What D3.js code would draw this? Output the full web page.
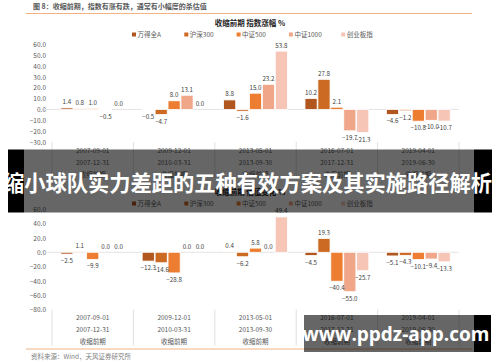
<!DOCTYPE html>
<html>
<head>
<meta charset="utf-8">
<script src="https://cdn.jsdelivr.net/npm/d3@7/dist/d3.min.js"></script>
<style>
  body { margin: 0; background: #fff; }
  svg { display: block; font-family: "Noto Sans CJK SC", "Noto Sans", sans-serif; }
</style>
</head>
<body>
<div id="chart"></div>
<script>
var categories = ['2007', '2009', '2013', '2016', '2019'];
var startDates = ['2007-09-01', '2009-12-01', '2013-05-01', '2016-07-01', '2019-04-01'];
var endDates = ['2007-12-31', '2010-03-31', '2013-09-30', '2017-12-31', '2019-06-30'];
var phaseLabel = '收缩前期';
var seriesNames = ['万得全A', '沪深300', '中证500', '中证1000', '创业板指'];
var col_series = ['#B0561E', '#CC6A24', '#ED7D31', '#F0A688', '#F6C5B6'];

// top: index change %
var topValues = [
    [1.4, 0.8, 1.0, -0.5, 0.0],
    [-0.5, -4.7, 8.0, 13.1, 0.0],
    [8.8, -1.6, 15.0, 23.2, 53.8],
    [10.2, 27.8, 2.1, -19.7, -21.3],
    [-4.6, -1.2, -10.8, -10.0, -10.7]
];
var topTicks = [60, 50, 40, 30, 20, 10, 0, -10, -20, -30];

// bottom: valuation change %
var bottomValues = [
    [-2.5, 1.1, -9.9, 0.0, 0.0],
    [-12.3, -14.6, -28.8, 0.0, 0.0],
    [0.4, -6.2, 5.8, 0.0, 49.4],
    [-4.5, 19.3, -40.4, -55.0, -25.7],
    [-5.1, -4.3, -10.1, -9.4, -13.3]
];
var bottomTicks = [60, 40, 20, 0, -20, -40, -60, -80];

var width = 500, height = 362;
var plotLeft = 52, plotRight = 459;

var svg = d3.select('#chart').append('svg')
    .attr('width', width)
    .attr('height', height);

// heading
svg.append('text')
    .attr('x', 33).attr('y', 9)
    .style('font-size', '7px')
    .style('font-weight', 'bold')
    .style('fill', '#595959')
    .text('图 8：收缩前期，指数有涨有跌，通常有小幅度的杀估值');

svg.append('line')
    .attr('x1', 26).attr('x2', 472)
    .attr('y1', 13.5).attr('y2', 13.5)
    .attr('stroke', '#F4B183').attr('stroke-width', 1);

var xGroup = d3.scaleBand()
    .domain(categories)
    .range([plotLeft, plotRight]);

var xBar = d3.scaleBand()
    .domain(seriesNames)
    .range([8, xGroup.bandwidth() - 8])
    .padding(0.06);

function drawPanel(opts) {
    var g = svg.append('g');
    var y = d3.scaleLinear().domain(opts.domain).range(opts.range);

    g.append('text')
        .attr('x', 250).attr('y', opts.titleY)
        .attr('text-anchor', 'middle')
        .style('font-size', '7.5px')
        .style('font-weight', 'bold')
        .style('fill', '#222')
        .text(opts.title);

    // legend
    var leg = g.selectAll('.leg').data(seriesNames).enter().append('g')
        .attr('transform', function(d, i) { return 'translate(' + (132 + i * 52.3) + ',' + opts.legendY + ')'; });
    leg.append('rect')
        .attr('x', 0).attr('y', -4.5)
        .attr('width', 4).attr('height', 4)
        .attr('fill', function(d, i) { return col_series[i]; });
    leg.append('text')
        .attr('x', 5.5).attr('y', 0)
        .style('font-size', '6.5px')
        .style('fill', '#595959')
        .text(function(d) { return d; });

    // y axis labels
    var yAxis = d3.axisLeft(y)
        .tickValues(opts.ticks)
        .tickSize(0)
        .tickPadding(0)
        .tickFormat(d3.format('.1f'));
    var ya = g.append('g')
        .attr('transform', 'translate(46,0)')
        .call(yAxis);
    ya.select('.domain').remove();
    ya.selectAll('text')
        .style('font-size', '6.5px')
        .style('fill', '#595959')
        .style('font-family', '"Noto Sans CJK SC", sans-serif');

    // zero line
    g.append('line')
        .attr('x1', 44).attr('x2', plotRight)
        .attr('y1', y(0)).attr('y2', y(0))
        .attr('stroke', '#E4E4E4').attr('stroke-width', 1);

    // category separators
    var seps = categories.map(function(c) { return xGroup(c); }).concat([plotRight]);
    g.selectAll('.sep').data(seps).enter().append('line')
        .attr('x1', function(d) { return d; })
        .attr('x2', function(d) { return d; })
        .attr('y1', y(opts.domain[0]))
        .attr('y2', y(opts.domain[0]) + 36)
        .attr('stroke', '#E0E0E0').attr('stroke-width', 1);

    // bars
    var groups = g.selectAll('.grp').data(opts.values).enter().append('g')
        .attr('transform', function(d, i) { return 'translate(' + xGroup(categories[i]) + ',0)'; });

    groups.selectAll('rect').data(function(d) { return d; }).enter().append('rect')
        .attr('x', function(d, i) { return xBar(seriesNames[i]); })
        .attr('y', function(d) { return y(Math.max(0, d)); })
        .attr('width', xBar.bandwidth())
        .attr('height', function(d) { return Math.abs(y(d) - y(0)); })
        .attr('fill', function(d, i) { return col_series[i]; })
        .attr('stroke', '#fff').attr('stroke-width', 0.8);

    groups.selectAll('text').data(function(d) { return d; }).enter().append('text')
        .attr('x', function(d, i) { return xBar(seriesNames[i]) + xBar.bandwidth() / 2; })
        .attr('y', function(d) { return d >= 0 ? y(d) - 3.5 : y(d) + 9; })
        .attr('text-anchor', 'middle')
        .style('font-size', '6.2px')
        .style('fill', '#404040')
        .text(function(d) { return d3.format('.1f')(d); });

    // x labels
    var rows = [startDates, endDates, categories.map(function() { return phaseLabel; })];
    rows.forEach(function(row, r) {
        g.selectAll('.xl' + r).data(row).enter().append('text')
            .attr('x', function(d, i) { return xGroup(categories[i]) + xGroup.bandwidth() / 2; })
            .attr('y', opts.labelY + r * 12)
            .attr('text-anchor', 'middle')
            .style('font-size', '6.5px')
            .style('fill', '#595959')
            .text(function(d) { return d; });
    });
}

drawPanel({
    title: '收缩前期 指数涨幅 %',
    titleY: 26, legendY: 37,
    domain: [-30, 60], range: [142, 44.4],
    ticks: topTicks, values: topValues, labelY: 152.5
});

drawPanel({
    title: '收缩前期 估值变化 %',
    titleY: 195, legendY: 206,
    domain: [-80, 60], range: [309.6, 209.3],
    ticks: bottomTicks, values: bottomValues, labelY: 319.5
});

svg.append('line')
    .attr('x1', 26).attr('x2', 472)
    .attr('y1', 349).attr('y2', 349)
    .attr('stroke', '#F4B183').attr('stroke-width', 1);

svg.append('text')
    .attr('x', 31).attr('y', 359)
    .style('font-size', '6.5px')
    .style('fill', '#7F7F7F')
    .text('资料来源：Wind，天风证券研究所');

// banner
svg.append('rect').attr('x', 8).attr('y', 149.5).attr('width', 16).attr('height', 63).attr('fill', '#000');
svg.append('rect').attr('x', 474).attr('y', 149.5).attr('width', 18).attr('height', 63).attr('fill', '#000');
svg.append('rect').attr('x', 24).attr('y', 149.5).attr('width', 450).attr('height', 63).attr('fill', 'rgba(0,0,0,0.6)');
svg.append('text')
    .attr('x', 3).attr('y', 191)
    .attr('textLength', 489)
    .attr('lengthAdjust', 'spacingAndGlyphs')
    .style('font-size', '21.5px')
    .style('font-weight', 'bold')
    .style('fill', '#fff')
    .text('缩小球队实力差距的五种有效方案及其实施路径解析');

// watermark
svg.append('rect').attr('x', 474).attr('y', 315).attr('width', 17).attr('height', 37).attr('fill', '#000');
svg.append('rect').attr('x', 304).attr('y', 315).attr('width', 170).attr('height', 37).attr('fill', 'rgba(0,0,0,0.6)');
svg.append('text')
    .attr('x', 396).attr('y', 341)
    .attr('text-anchor', 'middle')
    .style('font-size', '19px')
    .style('font-weight', 'bold')
    .style('font-family', '"Open Sans", sans-serif')
    .style('fill', '#fff')
    .text('www.ppdz-app.com');
</script>
</body>
</html>
